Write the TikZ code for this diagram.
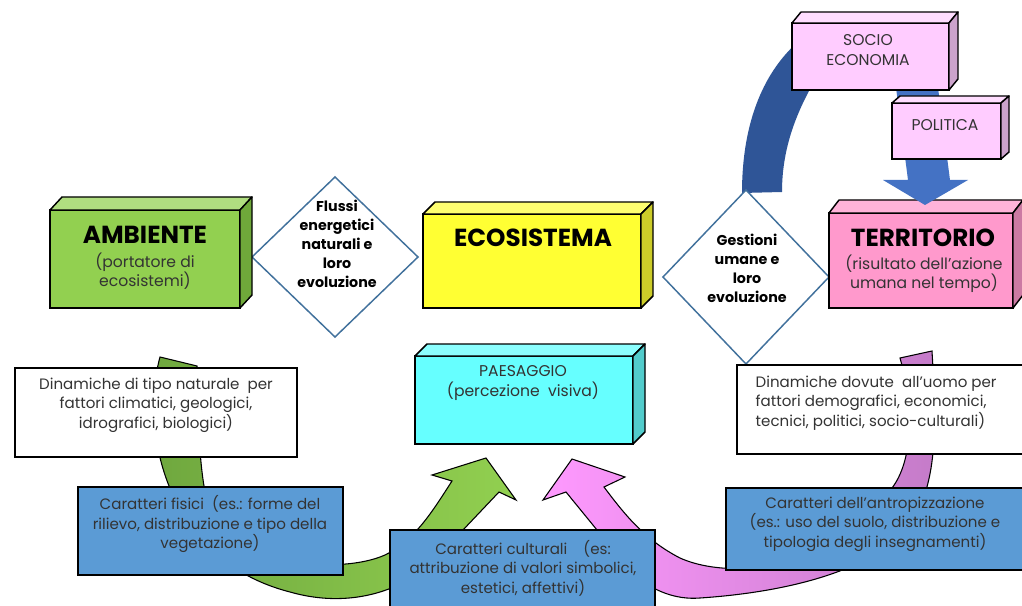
\documentclass[tikz,border=0pt]{standalone}
\usepackage{fontspec}
\setmainfont{Poppins}
\usetikzlibrary{shapes.geometric}
\definecolor{ambF}{HTML}{92D050}\definecolor{ambT}{HTML}{B0DE80}\definecolor{ambS}{HTML}{6FA83A}
\definecolor{ecoF}{HTML}{FFFF33}\definecolor{ecoT}{HTML}{FFFF70}\definecolor{ecoS}{HTML}{CCCC29}
\definecolor{terF}{HTML}{FF99CC}\definecolor{terT}{HTML}{FFB3D9}\definecolor{terS}{HTML}{CC7AA3}
\definecolor{socF}{HTML}{FFCCFF}\definecolor{socT}{HTML}{FFDDFF}\definecolor{socS}{HTML}{CCA3CC}
\definecolor{paeF}{HTML}{66FFFF}\definecolor{paeT}{HTML}{8CFFFF}\definecolor{paeS}{HTML}{52CCCC}
\definecolor{blueBox}{HTML}{5B9BD5}
\definecolor{diab}{HTML}{41719C}
\definecolor{arcb}{HTML}{2F5597}
\definecolor{arrb}{HTML}{4472C4}
\definecolor{grL}{HTML}{6EA63E}\definecolor{grR}{HTML}{92D050}
\definecolor{pkL}{HTML}{FF99FF}\definecolor{pkR}{HTML}{C47BC8}
\definecolor{txt}{HTML}{333333}
\newcommand\tdbox[8]{%
  \node[fbox, fill=#8F, minimum width=#4*0.75pt, minimum height=#5*0.75pt] (#1) at (#2,#3) {};
  \filldraw[fill=#8T, boxline] (#1.north west) -- ++(#6,-#7) -- ([shift={(#6,-#7)}]#1.north east) -- (#1.north east) -- cycle;
  \filldraw[fill=#8S, boxline] (#1.north east) -- ++(#6,-#7) -- ([shift={(#6,-#7)}]#1.south east) -- (#1.south east) -- cycle;
}
\begin{document}
\begin{tikzpicture}[x=0.75pt,y=-0.75pt,
  fbox/.style={draw=black, line width=1.1pt, outer sep=0pt, inner sep=0pt, rectangle},
  boxline/.style={draw=black, line width=1.1pt, line join=round},
  tbox/.style={draw=black, line width=1.1pt, rectangle, outer sep=0pt, inner sep=0pt},
  title/.style={font=\fontsize{18.5}{22}\selectfont\bfseries, text=black},
  sub/.style={font=\fontsize{11.7}{14.5}\selectfont, text=txt, align=center},
  body/.style={font=\fontsize{11.3}{14.6}\selectfont, text=txt, align=center},
  dtext/.style={font=\fontsize{10.7}{14.3}\selectfont\bfseries, text=black, align=center},
  dia/.style={diamond, draw=diab, line width=1.1pt, fill=white, inner sep=0pt, outer sep=0pt}]
\useasboundingbox (0,0) rectangle (1022,606);
\fill[white] (0,0) rectangle (1022,606);
% curved arrows
\draw[line width=0.8pt, left color=grL, right color=grR] (160,357) .. controls (140,430) and (165,560) .. (290,592) .. controls (360,612) and (425,585) .. (463,530) -- (499,492) -- (516,500) -- (486,458) -- (432,475) -- (452,481) .. controls (432,512) and (415,540) .. (385,555) .. controls (340,575) and (240,565) .. (212,515) .. controls (200,490) and (198,430) .. (197,366) -- cycle;
\draw[line width=0.8pt, left color=pkL, right color=pkR] (932,351) .. controls (936,420) and (940,490) .. (905,530) .. controls (870,570) and (790,592) .. (700,598) .. controls (650,602) and (615,560) .. (597,530) -- (566,492) -- (543,500) -- (572,459) -- (625,477) -- (604,487) .. controls (625,515) and (645,540) .. (680,558) .. controls (740,585) and (860,560) .. (892,488) .. controls (912,462) and (915,410) .. (900,358) -- cycle;
% dark arc
\fill[arcb] (742,193) .. controls (742,120) and (765,70) .. (800,40) -- (830,50) -- (815,80) .. controls (795,115) and (782,150) .. (782,192) -- cycle;
% diamonds
\node[dia, minimum width=166*0.75pt, minimum height=160*0.75pt] (d1) at (335,257) {};
\node[dtext] (d1t) at (337,244) {Flussi\\energetici\\naturali e\\loro\\evoluzione};
\node[dia, minimum width=166*0.75pt, minimum height=174*0.75pt] (d2) at (746,277) {};
\node[dtext] (d2t) at (747,268) {Gestioni\\umane e\\loro\\evoluzione};
% 3D boxes
\tdbox{amb}{145}{259}{190}{98}{12}{13}{amb}
\node[title] (ambt) at (145,235) {AMBIENTE};
\node[sub] (ambs) at (145,271) {(portatore di\\ecosistemi)};
\tdbox{eco}{532}{261}{218}{94}{12}{12}{eco}
\node[title] (ecot) at (533,238) {ECOSISTEMA};
\tdbox{ter}{921}{260.5}{184}{95}{10}{13}{ter}
\node[title] (tert) at (923,238) {TERRITORIO};
\node[sub] (ters) at (924,274) {(risultato dell'azione\\umana nel tempo)};
\fill[arrb] (895,80) -- (937,80) -- (950,180) -- (968,180) -- (925,205) -- (883,180) -- (908,180) -- cycle;
\tdbox{soc}{870.5}{56.5}{157}{67}{9}{11}{soc}
\node[sub] (soct) at (868,50) {SOCIO\\ECONOMIA};
\tdbox{pol}{946.5}{131}{109}{56}{8}{7}{soc}
\node[sub] (polt) at (945,125) {POLITICA};
\tdbox{pae}{524}{400}{218}{88}{12}{12}{pae}
\node[sub] (paet) at (523,383) {PAESAGGIO\\(percezione\ \ visiva)};
% flat text boxes
\node[tbox, fill=white, minimum width=282*0.75pt, minimum height=89*0.75pt] (dnat) at (156,412.5) {};
\node[body] (dnatt) at (156,405) {Dinamiche di tipo naturale\ \ per\\fattori climatici, geologici,\\idrografici, biologici)};
\node[tbox, fill=blueBox, minimum width=265*0.75pt, minimum height=88*0.75pt] (fis) at (210.5,531) {};
\node[body] (fist) at (210,524) {Caratteri fisici\ \ (es.: forme del\\rilievo, distribuzione e tipo della\\vegetazione)};
\node[tbox, fill=blueBox, minimum width=265*0.75pt, minimum height=82*0.75pt] (cul) at (522.5,571) {};
\node[body] (cult) at (523,568) {Caratteri culturali\ \ \ \ (es:\\attribuzione di valori simbolici,\\estetici, affettivi)};
\node[tbox, fill=white, minimum width=293*0.75pt, minimum height=89*0.75pt] (dum) at (883.5,409.5) {};
\node[body, align=left, anchor=west] (dumt) at (751,403) {Dinamiche dovute\ \ all'uomo per\\fattori demografici, economici,\\tecnici, politici, socio-culturali)};
\node[tbox, fill=blueBox, minimum width=304*0.75pt, minimum height=82*0.75pt] (ant) at (878,529) {};
\node[body] (antt) at (875,524) {Caratteri dell'antropizzazione\\(es.: uso del suolo, distribuzione e\\tipologia degli insegnamenti)};
\end{tikzpicture}
\end{document}
